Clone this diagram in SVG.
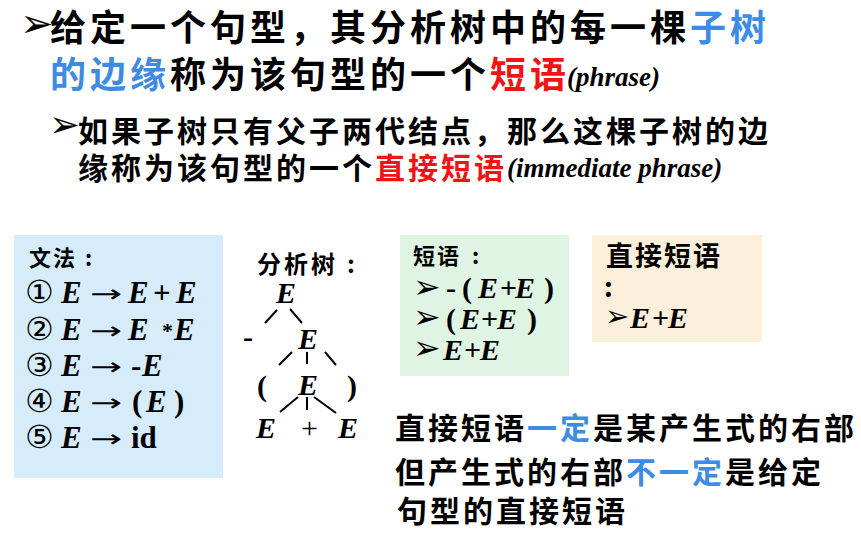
<svg xmlns="http://www.w3.org/2000/svg" width="861" height="537" viewBox="0 0 861 537">
<style>
.cn{font-family:"Noto Sans CJK SC","Noto Sans CJK JP",sans-serif;font-weight:700;fill:#000}
.h1{font-size:36px;letter-spacing:4px}
.h2{font-size:30px;letter-spacing:3px}
.sm{font-size:22px;letter-spacing:2px}
.blue{fill:#3d8be2}
.red{fill:#f01414}
.en{font-family:"Liberation Serif","Times New Roman",serif;font-weight:700;font-style:italic;font-size:27px;fill:#000}
.m{font-family:"Liberation Serif","Times New Roman",serif;font-weight:700;font-size:30px;fill:#000}
.g{font-size:31px}
.it{font-style:italic}
.num{font-family:"DejaVu Serif","DejaVu Sans",serif;font-size:32px;font-weight:400}
.arr{font-family:"DejaVu Sans",sans-serif;font-size:24px;font-weight:400;fill:#000}
.bul{font-family:"DejaVu Sans",sans-serif;fill:#000}
.edge{stroke:#000;stroke-width:2;fill:none}
</style>

<g id="intro">
  <text class="bul" x="20" y="37" font-size="40">➢</text>
  <text class="cn h1" x="50" y="41">给定一个句型，其分析树中的每一棵<tspan class="blue" x="690">子树</tspan></text>
  <text class="cn h1" x="50" y="88"><tspan class="blue">的边缘</tspan><tspan x="170">称为该句型的一个</tspan><tspan class="red" x="490">短语</tspan></text>
  <text class="en" x="567" y="86">(phrase)</text>
  <text class="bul" x="49" y="137" font-size="37">➢</text>
  <text class="cn h2" x="78" y="142">如果子树只有父子两代结点，那么这棵子树的边</text>
  <text class="cn h2" x="78" y="179">缘称为该句型的一个<tspan class="red" x="375">直接短语</tspan></text>
  <text class="en" x="507" y="177">(immediate phrase)</text>
</g>

<g id="grammar">
  <rect x="14" y="235" width="209" height="243" fill="#d6ecfb"/>
  <text class="cn sm" x="29" y="266">文法<tspan x="85">:</tspan></text>
  <g class="m g">
    <text y="303"><tspan class="num" x="25">①</tspan><tspan class="it" x="61">E</tspan><tspan class="it" x="128">E</tspan><tspan x="153">+</tspan><tspan class="it" x="176">E</tspan></text>
    <text y="340"><tspan class="num" x="25">②</tspan><tspan class="it" x="61">E</tspan><tspan class="it" x="128">E</tspan><tspan x="162" font-size="22" dy="-2">*</tspan><tspan class="it" x="174" dy="2">E</tspan></text>
    <text y="376"><tspan class="num" x="25">③</tspan><tspan class="it" x="61">E</tspan><tspan x="131">-</tspan><tspan class="it" x="142">E</tspan></text>
    <text y="412"><tspan class="num" x="25">④</tspan><tspan class="it" x="61">E</tspan><tspan x="132">(</tspan><tspan class="it" x="146">E</tspan><tspan x="174">)</tspan></text>
    <text y="448"><tspan class="num" x="25">⑤</tspan><tspan class="it" x="61">E</tspan><tspan x="131">id</tspan></text>
  </g>
  <text class="arr" transform="translate(90,302) scale(1.6,1)">→</text>
  <text class="arr" transform="translate(90,339) scale(1.6,1)">→</text>
  <text class="arr" transform="translate(90,375) scale(1.6,1)">→</text>
  <text class="arr" transform="translate(90,411) scale(1.6,1)">→</text>
  <text class="arr" transform="translate(90,447) scale(1.6,1)">→</text>
</g>

<g id="tree-label">
  <text class="cn" x="257" y="273" font-size="24" letter-spacing="3">分析树<tspan x="347">:</tspan></text>
</g>

<g id="connectors">
  <line class="edge" x1="277" y1="310" x2="265" y2="323"/>
  <line class="edge" x1="290" y1="309" x2="302" y2="323"/>
  <line class="edge" x1="292" y1="352" x2="279" y2="365"/>
  <line class="edge" x1="307" y1="352" x2="307" y2="364"/>
  <line class="edge" x1="325" y1="352" x2="336" y2="365"/>
  <line class="edge" x1="298" y1="397" x2="280" y2="412"/>
  <line class="edge" x1="307" y1="397" x2="307" y2="410"/>
  <line class="edge" x1="314" y1="397" x2="336" y2="413"/>
</g>

<g id="tree-nodes" class="m" font-size="28">
  <g id="n-root"><text class="it" x="276" y="303">E</text></g>
  <g id="n-minus"><text x="243" y="347">-</text></g>
  <g id="n-e2"><text class="it" x="298" y="349">E</text></g>
  <g id="n-lp"><text x="257" y="396">(</text></g>
  <g id="n-e3"><text class="it" x="298" y="395">E</text></g>
  <g id="n-rp"><text x="347" y="396">)</text></g>
  <g id="n-e4"><text class="it" x="256" y="438">E</text></g>
  <g id="n-plus"><text x="301" y="438" font-weight="400">+</text></g>
  <g id="n-e5"><text class="it" x="338" y="438">E</text></g>
</g>

<g id="phrases">
  <rect x="400" y="235" width="169" height="141" fill="#dff4e3"/>
  <text class="cn sm" x="413" y="264">短语<tspan x="472">:</tspan></text>
  <text class="bul" x="413" y="298" font-size="33">➢</text>
  <text class="m" y="298"><tspan x="446">-</tspan><tspan x="462">(</tspan><tspan class="it" x="478">E</tspan><tspan x="500">+</tspan><tspan class="it" x="515">E</tspan><tspan x="544">)</tspan></text>
  <text class="bul" x="413" y="328" font-size="33">➢</text>
  <text class="m" y="329"><tspan x="446">(</tspan><tspan class="it" x="460">E</tspan><tspan x="481">+</tspan><tspan class="it" x="497">E</tspan><tspan x="527">)</tspan></text>
  <text class="bul" x="413" y="359" font-size="33">➢</text>
  <text class="m" y="360"><tspan class="it" x="443">E</tspan><tspan x="464">+</tspan><tspan class="it" x="480">E</tspan></text>
</g>

<g id="immediate">
  <rect x="592" y="235" width="170" height="107" fill="#fcf0da"/>
  <text class="cn" x="606" y="266" font-size="27" letter-spacing="2">直接短语</text>
  <text class="cn" x="604" y="297" font-size="27">:</text>
  <text class="bul" x="605" y="326" font-size="29">➢</text>
  <text class="m" y="328"><tspan class="it" x="630">E</tspan><tspan x="652">+</tspan><tspan class="it" x="668">E</tspan></text>
</g>

<g id="note">
  <text class="cn h2" x="395" y="439">直接短语<tspan class="blue" x="527">一定</tspan><tspan x="593">是某产生式的右部</tspan></text>
  <text class="cn h2" x="395" y="483">但产生式的右部<tspan class="blue" x="626">不一定</tspan><tspan x="725">是给定</tspan></text>
  <text class="cn h2" x="397" y="522">句型的直接短语</text>
</g>
</svg>
